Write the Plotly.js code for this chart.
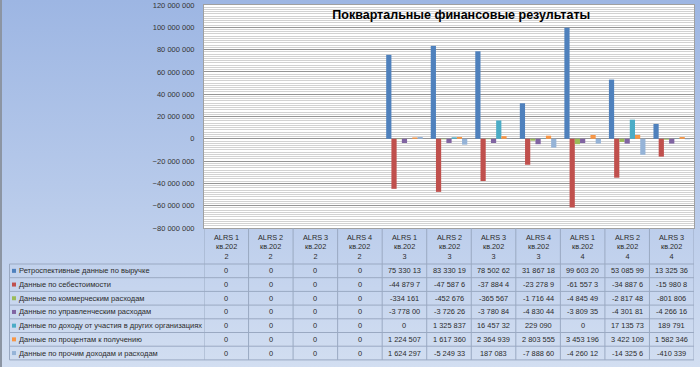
<!DOCTYPE html>
<html>
<head>
<meta charset="utf-8">
<script src="https://cdn.plot.ly/plotly-3.0.1.min.js"></script>
<style>
html,body{margin:0;padding:0;}
body{width:700px;height:367px;overflow:hidden;background:linear-gradient(to bottom,#9db6e3 0%,#b6c9ea 50%,#d2def1 100%);position:relative;}
#chart{width:700px;height:367px;}
#edge{position:absolute;left:0;top:0;width:2px;height:367px;background:#8c95a3;}
</style>
</head>
<body>
<div id="chart"></div>
<div id="edge"></div>
<script>
// ---- data ----
const categories = ['ALRS 1 кв.2022','ALRS 2 кв.2022','ALRS 3 кв.2022','ALRS 4 кв.2022',
  'ALRS 1 кв.2023','ALRS 2 кв.2023','ALRS 3 кв.2023','ALRS 4 кв.2023',
  'ALRS 1 кв.2024','ALRS 2 кв.2024','ALRS 3 кв.2024'];
const seriesNames = ['Ретроспективные данные по выручке','Данные по себестоимости',
  'Данные по коммерческим расходам','Данные по управленческим расходам',
  'Данные по доходу от участия в других организациях','Данные по процентам к получению',
  'Данные по прочим доходам и расходам'];
const revenue   = [0,0,0,0, 75330130, 83330190, 78502620, 31867180, 99603200, 53085990, 13325360];
const costs     = [0,0,0,0,-44879700,-47587600,-37884400,-23278900,-61557300,-34887600,-15980800];
const commercial= [0,0,0,0, -334161, -452676, -365567, -1716440, -4845490, -2817480, -801806];
const management= [0,0,0,0,-3778000,-3726260,-3780840,-4830440,-3809350,-4301810,-4266160];
const participation=[0,0,0,0, 0, 1325837, 16457320, 229090, 0, 17135730, 189791];
const interest  = [0,0,0,0, 1224507, 1617360, 2364939, 2803555, 3453196, 3422109, 1582346];
const otherInc  = [0,0,0,0, 1624297,-5249330, 187083,-7888600,-4260120,-14325600,-410339];
const series = [revenue,costs,commercial,management,participation,interest,otherInc];
const colors = ['#4F81BD','#C0504D','#9BBB59','#8064A2','#4BACC6','#F79646','#95B3D7'];

// ---- layout geometry ----
const PL=204, PT=5, PW=490, PH=223;
const px2x = px => (px-PL)/PW;
const py2y = py => (PT+PH-py)/PH;
const tableTop=228, headBottom=264, rowH=13.7, legLeft=9.5;
const FONT='"Liberation Sans", Arial, sans-serif';

const traces = series.map((vals,i)=>({
  type:'bar', x:categories, y:vals, name:seriesNames[i],
  marker:{color:colors[i], line:{width:0}}, hoverinfo:'skip'
}));

function fmt(v){
  const s = Math.abs(Math.round(v)).toString().replace(/\B(?=(\d{3})+(?!\d))/g,' ');
  return ((v<0?'-':'')+s).slice(0,9);
}
function headLabel(c){ return c.replace(/ кв\.(\d{3})(\d)$/,'<br>кв.$1<br>$2'); }

const shapes=[], annotations=[];
const lineC='#9aa9c2';
for(let k=0;k<=categories.length;k++){
  shapes.push({type:'line',xref:'x',yref:'paper',x0:k-0.5,x1:k-0.5,y0:py2y(tableTop),y1:py2y(headBottom+rowH*7),line:{color:lineC,width:1}});
}
shapes.push({type:'line',xref:'paper',yref:'paper',x0:px2x(legLeft),x1:px2x(legLeft),y0:py2y(headBottom),y1:py2y(headBottom+rowH*7),line:{color:lineC,width:1}});
for(let r=0;r<=7;r++){
  const y=py2y(headBottom+rowH*r);
  shapes.push({type:'line',xref:'paper',yref:'paper',x0:px2x(legLeft),x1:1,y0:y,y1:y,line:{color:lineC,width:1}});
}
categories.forEach(c=>{
  annotations.push({xref:'x',yref:'paper',x:c,y:py2y((tableTop+headBottom)/2+1),text:headLabel(c),showarrow:false,
    font:{family:FONT,size:7.3,color:'#2b2b2b'},align:'center',yanchor:'middle'});
});
series.forEach((vals,r)=>{
  const yc = py2y(headBottom+rowH*(r+0.5));
  shapes.push({type:'rect',xref:'paper',yref:'paper',x0:px2x(12),x1:px2x(16),y0:yc-2/PH,y1:yc+2/PH,fillcolor:colors[r],line:{width:0}});
  annotations.push({xref:'paper',yref:'paper',x:px2x(17),y:yc,xanchor:'left',yanchor:'middle',text:seriesNames[r],showarrow:false,
    font:{family:FONT,size:7.5,color:'#2b2b2b'}});
  vals.forEach((v,i)=>{
    annotations.push({xref:'x',yref:'paper',x:categories[i],y:yc,text:fmt(v),showarrow:false,yanchor:'middle',
      font:{family:FONT,size:7.4,color:'#2b2b2b'}});
  });
});

const layout={
  width:700,height:367,
  margin:{l:PL,r:700-PL-PW,t:PT,b:367-PT-PH,pad:0},
  paper_bgcolor:'rgba(0,0,0,0)', plot_bgcolor:'#ffffff',
  separators:', ',
  showlegend:false, barmode:'group', bargap:0.18, bargroupgap:0,
  title:{text:'<b>Поквартальные финансовые результаты</b>',font:{family:FONT,size:12.5,color:'#000'},
    x:0.525,xanchor:'center',y:py2y(15)*PH/367+ (367-PT-PH)/367,yanchor:'middle',xref:'paper',yref:'container'},
  xaxis:{type:'category',range:[-0.5,10.5],showticklabels:false,showgrid:false,zeroline:false,
    showline:true,mirror:true,linecolor:'#a0a0a0',linewidth:1,fixedrange:true},
  yaxis:{range:[-80000000,120000000],dtick:20000000,tickformat:',d',showgrid:true,gridcolor:'#959595',gridwidth:1,
    minor:{dtick:2000000,showgrid:true,gridcolor:'#d2d2d2',gridwidth:1},
    zeroline:true,zerolinecolor:'#959595',zerolinewidth:1,
    showline:true,mirror:true,linecolor:'#a0a0a0',linewidth:1,ticks:'',ticklabelstandoff:7,
    tickfont:{family:FONT,size:7.5,color:'#333'},fixedrange:true},
  shapes:shapes, annotations:annotations
};
Plotly.newPlot('chart',traces,layout,{displayModeBar:false,staticPlot:true});
</script>
</body>
</html>
